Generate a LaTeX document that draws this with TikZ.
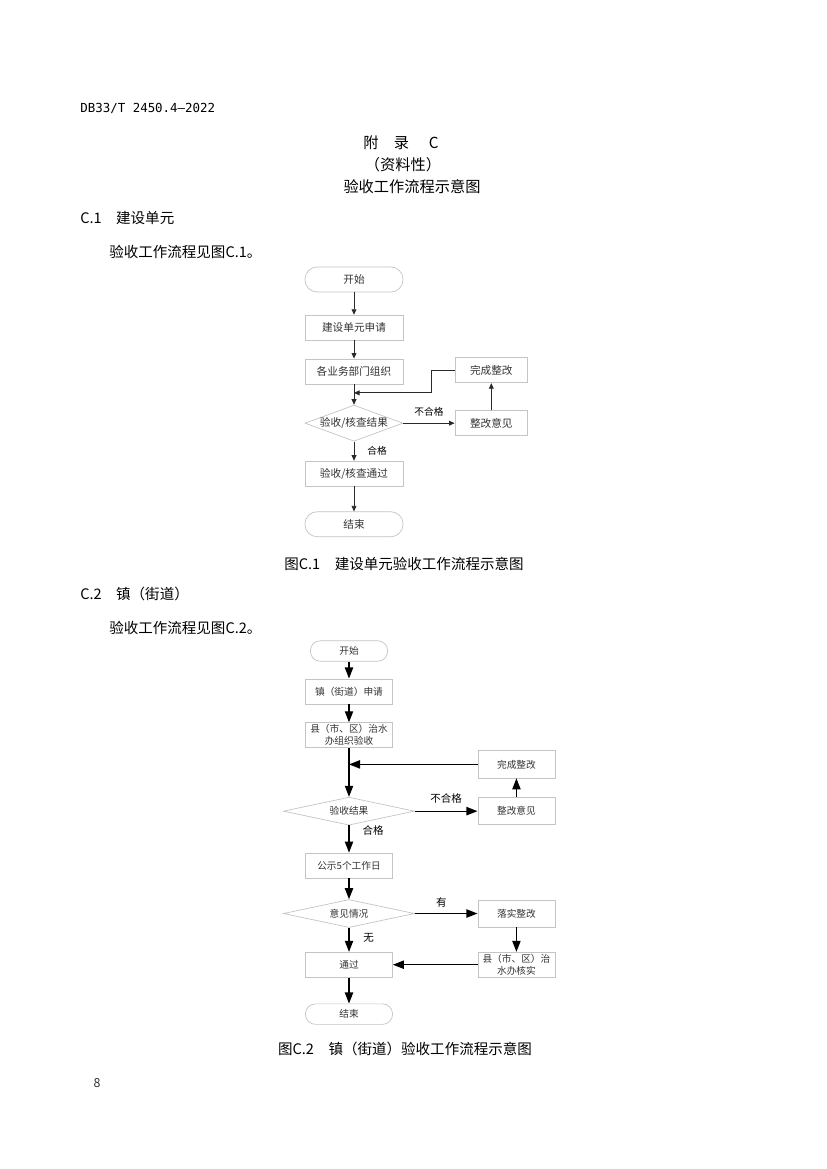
\documentclass[tikz,border=0pt]{standalone}
\usepackage{fontspec}
\setmainfont{Noto Sans CJK SC}
\newfontfamily\docnofont{DejaVu Sans Mono}
\usetikzlibrary{positioning, arrows.meta, calc, shapes.geometric}
\definecolor{boxgray}{HTML}{C4C4C4}
\definecolor{txtgray}{HTML}{333333}
\definecolor{arrgray}{HTML}{2A2A2A}

\begin{document}
\begin{tikzpicture}[
    x=0.254mm, y=-0.254mm,
    every node/.style={inner sep=0pt},
    body/.style={font=\fontsize{10.5}{13}\selectfont, text=black},
    head/.style={font=\fontsize{11}{13}\selectfont, text=black},
    proc/.style={draw=boxgray, line width=0.5pt, minimum width=24.9mm, minimum height=6.35mm,
                 font=\fontsize{7.7}{9}\selectfont, text=txtgray, align=center},
    term/.style={proc, rounded corners=3.1mm},
    dec/.style={proc, diamond, aspect=2.7, minimum height=9.1mm},
    side/.style={proc, minimum width=18.5mm},
    procb/.style={proc, minimum width=22.1mm, font=\fontsize{7}{8.6}\selectfont},
    termb/.style={procb, rounded corners=2.5mm, minimum height=5.2mm},
    decb/.style={procb, diamond, aspect=4.7, minimum width=33.3mm, minimum height=7.1mm},
    sideb/.style={procb, minimum width=19.6mm, minimum height=6.9mm},
    lbl/.style={font=\fontsize{7}{8}\selectfont, text=black},
    lblb/.style={font=\fontsize{7.6}{9}\selectfont, text=black},
    arr/.style={-{Triangle[length=4pt, width=3.5pt]}, line width=0.6pt, arrgray},
    arrb/.style={-{Triangle[length=8pt, width=6pt]}, line width=0.9pt, black},
  ]

  % ── page ──
  \fill[white] (0,0) rectangle (826,1169);
  \useasboundingbox (0,0) rectangle (826,1169);

  \node[body, anchor=west, font=\docnofont\fontsize{9}{11}\selectfont] (docno) at (80,108) {DB33/T 2450.4—2022};
  \node[head] (appx) at (401,143) {附\quad 录\hspace{1.3em}C};
  \node[head] (nature) at (403,165) {（资料性）};
  \node[head] (title) at (412,187) {验收工作流程示意图};

  \node[body, anchor=west] (sec1) at (80,218) {C.1\quad 建设单元};
  \node[body, anchor=west] (ref1) at (109,252) {验收工作流程见图C.1。};

  % ── 图C.1 ──
  \node[term] (start) at (354,279.5) {开始};
  \node[proc, below=5.7mm of start] (apply) {建设单元申请};
  \node[proc, below=4.6mm of apply] (organize) {各业务部门组织};
  \node[dec, below=5.2mm of organize] (check) {验收/核查结果};
  \node[proc, below=4.85mm of check] (pass) {验收/核查通过};
  \node[term, below=6.35mm of pass] (finish) {结束};
  \node[side, right=13mm of check] (advice) {整改意见};
  \node[side, above=6.9mm of advice] (done) {完成整改};

  \draw[arr] (start) -- (apply);
  \draw[arr] (apply) -- (organize);
  \draw[arr] (organize) -- (check);
  \draw[arr] (check) -- node[lbl, right=3.3mm] {合格} (pass);
  \draw[arr] (pass) -- (finish);
  \draw[arr] (check) -- node[lbl, above=1.6mm] {不合格} (advice);
  \draw[arr] (advice) -- (done);
  \draw[arr] (done.west) -- ++(-5.8mm,0) |- ($(organize.south)!0.42!(check.north)$);

  \node[body] (cap1) at (404,564) {图C.1\quad 建设单元验收工作流程示意图};

  \node[body, anchor=west] (sec2) at (80,594) {C.2\quad 镇（街道）};
  \node[body, anchor=west] (ref2) at (109,628) {验收工作流程见图C.2。};

  % ── 图C.2 ──
  \node[termb, minimum width=19.6mm] (start2) at (349,651) {开始};
  \node[procb, below=4.3mm of start2] (apply2) {镇（街道）申请};
  \node[procb, below=4.6mm of apply2] (organize2) {县（市、区）治水\\办组织验收};
  \node[decb, below=12.4mm of organize2] (check2) {验收结果};
  \node[procb, below=6.9mm of check2] (publicize) {公示5个工作日};
  \node[decb, below=5.3mm of publicize] (opinion) {意见情况};
  \node[procb, below=6.1mm of opinion] (pass2) {通过};
  \node[termb, below=6.6mm of pass2] (finish2) {结束};
  \node[sideb, right=15.9mm of check2] (advice2) {整改意见};
  \node[sideb, above=4.8mm of advice2] (done2) {完成整改};
  \node[sideb, right=15.9mm of opinion] (rectify) {落实整改};
  \node[sideb, below=6.2mm of rectify, minimum height=6.35mm] (verify) {县（市、区）治\\水办核实};

  \draw[arrb] (start2) -- (apply2);
  \draw[arrb] (apply2) -- (organize2);
  \draw[arrb] (organize2) -- (check2);
  \draw[arrb] (done2.west) -- (done2.west -| organize2.south);
  \draw[arrb] (check2) -- node[lblb, above=1.8mm] {不合格} (advice2);
  \draw[arrb] (advice2) -- (done2);
  \draw[arrb] (check2) -- node[lblb, pos=0.2, right=3.3mm] {合格} (publicize);
  \draw[arrb] (publicize) -- (opinion);
  \draw[arrb] (opinion) -- node[lblb, above=1.4mm, xshift=-1.2mm] {有} (rectify);
  \draw[arrb] (opinion) -- node[lblb, pos=0.42, right=3.5mm] {无} (pass2);
  \draw[arrb] (rectify) -- (verify);
  \draw[arrb] (verify.west) -- (verify.west -| pass2.east);
  \draw[arrb] (pass2) -- (finish2);

  \node[body] (cap2) at (405,1049) {图C.2\quad 镇（街道）验收工作流程示意图};

  \node[font=\fontsize{9}{10}\selectfont, text=black!80] (pageno) at (97,1083) {8};

\end{tikzpicture}
\end{document}
